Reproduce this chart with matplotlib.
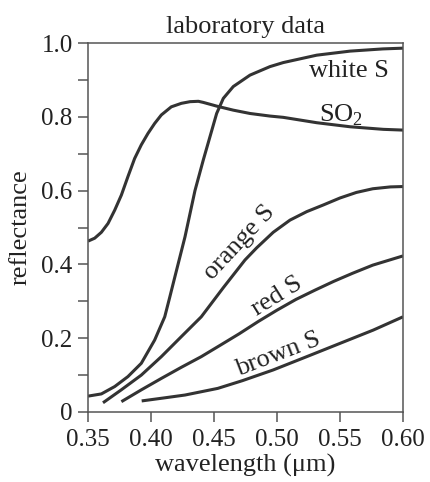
import matplotlib
matplotlib.use("Agg")
import matplotlib.pyplot as plt

# wavelength (um) / reflectance
white_x = [0.350, 0.3606, 0.3712, 0.3817, 0.3923, 0.4029, 0.4109, 0.4148,
           0.419, 0.427, 0.4349, 0.4415, 0.4468, 0.4521, 0.4574, 0.4653,
           0.4786, 0.4944, 0.505, 0.5315, 0.558, 0.584, 0.600]
white_y = [0.043, 0.049, 0.069, 0.096, 0.132, 0.195, 0.258, 0.310,
           0.367, 0.475, 0.600, 0.683, 0.746, 0.809, 0.850, 0.882,
           0.913, 0.936, 0.947, 0.967, 0.978, 0.984, 0.986]

so2_x = [0.350, 0.3553, 0.3606, 0.3659, 0.3712, 0.3765, 0.3817, 0.387,
         0.3923, 0.3976, 0.4029, 0.4082, 0.4161, 0.4241, 0.431, 0.4376,
         0.4415, 0.4521, 0.4653, 0.4786, 0.4944, 0.505, 0.5315, 0.558,
         0.5844, 0.600]
so2_y = [0.463, 0.471, 0.487, 0.511, 0.547, 0.588, 0.638, 0.687,
         0.724, 0.755, 0.782, 0.805, 0.827, 0.8365, 0.841, 0.842,
         0.839, 0.829, 0.818, 0.809, 0.802, 0.7985, 0.784, 0.773,
         0.766, 0.764]

orange_x = [0.3619, 0.3764, 0.3923, 0.4082, 0.424, 0.4399, 0.4574, 0.4746,
            0.4839, 0.497, 0.5103, 0.5236, 0.5367, 0.550, 0.563, 0.576,
            0.590, 0.600]
orange_y = [0.025, 0.060, 0.100, 0.150, 0.204, 0.258, 0.337, 0.412,
            0.445, 0.487, 0.520, 0.543, 0.561, 0.580, 0.595, 0.605,
            0.610, 0.611]

red_x = [0.3765, 0.3923, 0.4082, 0.424, 0.4399, 0.455, 0.470, 0.485,
         0.500, 0.515, 0.530, 0.545, 0.560, 0.576, 0.600]
red_y = [0.028, 0.060, 0.091, 0.121, 0.150, 0.181, 0.212, 0.245,
         0.276, 0.305, 0.330, 0.354, 0.376, 0.398, 0.423]

brown_x = [0.3926, 0.410, 0.427, 0.440, 0.453, 0.4726, 0.497, 0.5236,
           0.550, 0.5764, 0.600]
brown_y = [0.030, 0.038, 0.046, 0.055, 0.064, 0.085, 0.114, 0.150,
           0.186, 0.222, 0.258]

x_ticks = [0.35, 0.40, 0.45, 0.50, 0.55, 0.60]
x_labels = ["0.35", "0.40", "0.45", "0.50", "0.55", "0.60"]
y_ticks = [0, 0.2, 0.4, 0.6, 0.8, 1.0]
y_labels = ["0", "0.2", "0.4", "0.6", "0.8", "1.0"]
y_minor = [0.1, 0.3, 0.5, 0.7, 0.9]

ink = "#333333"
txt = "#222222"
plt.rcParams["font.family"] = ["Liberation Serif", "DejaVu Serif"]
plt.rcParams["mathtext.fontset"] = "custom"
plt.rcParams["mathtext.rm"] = "Liberation Serif"
plt.rcParams["font.size"] = 19

fig = plt.figure(figsize=(4.30, 4.82), dpi=100)
ax = fig.add_axes([88 / 430, 1 - 412 / 482, 315 / 430, 369 / 482])

for xs, ys in [(white_x, white_y), (so2_x, so2_y), (orange_x, orange_y),
               (red_x, red_y), (brown_x, brown_y)]:
    ax.plot(xs, ys, color=ink, lw=2.2, solid_capstyle="butt",
            solid_joinstyle="round")

ax.set_xlim(0.35, 0.60)
ax.set_ylim(0, 1.0)
ax.set_xticks(x_ticks)
ax.set_xticklabels(x_labels)
ax.set_yticks(y_ticks)
ax.set_yticklabels(y_labels)
ax.set_yticks(y_minor, minor=True)
ax.tick_params(axis="both", which="both", direction="out", length=7,
               width=1.1, color="#555555", labelcolor=txt, labelsize=18)
ax.tick_params(axis="x", pad=5)
ax.tick_params(axis="y", pad=4)
for s in ax.spines.values():
    s.set_color("#555555")
    s.set_linewidth(1.1)

ax.set_xlabel("wavelength (μm)", color=txt, labelpad=2)
ax.set_ylabel("reflectance", color=txt, labelpad=7)
ax.set_title("laboratory data", color=txt, pad=7, fontsize=19)

# curve labels
ax.text(0.557, 0.908, "white S", ha="center", va="baseline", color=txt)
ax.text(0.551, 0.786, r"SO$_\mathrm{2}$", ha="center", va="baseline",
        color=txt)
ax.text(0.4706, 0.459, "orange S", ha="center", va="center", rotation=47,
        rotation_mode="anchor", color=txt)
ax.text(0.5004, 0.314, "red S", ha="center", va="center", rotation=32,
        rotation_mode="anchor", color=txt)
ax.text(0.5012, 0.1545, "brown S", ha="center", va="center", rotation=21,
        rotation_mode="anchor", color=txt)

fig.savefig("out.png", dpi=100)
